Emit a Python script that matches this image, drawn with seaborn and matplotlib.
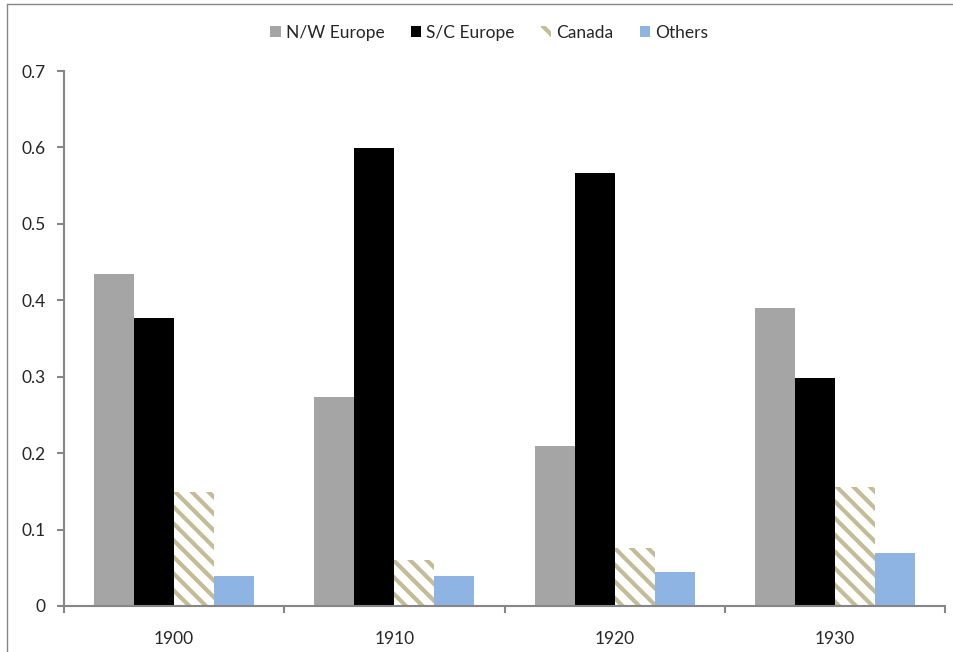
import numpy as np
import pandas as pd
import matplotlib
matplotlib.use("Agg")
import matplotlib.pyplot as plt
import seaborn as sns
from matplotlib.lines import Line2D
from matplotlib.patches import Patch

## data
years = ["1900", "1910", "1920", "1930"]
groups = ["N/W Europe", "S/C Europe", "Canada", "Others"]
nw_europe = [0.434, 0.273, 0.209, 0.390]
sc_europe = [0.377, 0.599, 0.567, 0.298]
canada = [0.149, 0.060, 0.076, 0.156]
others = [0.039, 0.039, 0.044, 0.069]

colors = ["#a5a5a5", "#000000", "#ffffff", "#8eb4e3"]
hatch_color = "#c4bc96"
axis_color = "#868686"
fsize = 12.5

df = pd.DataFrame({
    "year": years * 4,
    "group": [g for g in groups for _ in years],
    "share": nw_europe + sc_europe + canada + others,
})

sns.set_style("white")
plt.rcParams["font.family"] = ["Lato", "DejaVu Sans"]
plt.rcParams["hatch.color"] = hatch_color
plt.rcParams["hatch.linewidth"] = 3.0

fig = plt.figure(figsize=(9.54, 6.52), dpi=100)
ax = fig.add_axes([64 / 954, 1 - 606 / 652, (945 - 64) / 954, (606 - 71) / 652])

sns.barplot(data=df, x="year", y="share", hue="group", order=years,
            hue_order=groups, palette=colors, width=0.727, gap=0,
            saturation=1, linewidth=0, ax=ax, legend=False)

# Canada bars: white with tan diagonal stripes
for bar in ax.containers[2]:
    bar.set_hatch("\\\\")
    bar.set_edgecolor(hatch_color)
    bar.set_linewidth(0)

ax.set_xlim(-0.5, 3.5)
ax.set_ylim(0, 0.7)
ax.set_yticks(np.arange(0, 0.71, 0.1))
ax.set_yticklabels(["0"] + ["%.1f" % v for v in np.arange(0.1, 0.71, 0.1)])
ax.set_xticks(np.arange(-0.5, 3.6, 1))
ax.set_xticklabels([])
ax.set_xticks(range(len(years)), minor=True)
ax.set_xticklabels(years, minor=True)
ax.tick_params(axis="x", which="minor", bottom=True, length=0, pad=18, labelsize=fsize)
ax.tick_params(axis="x", which="major", bottom=True, length=5, width=1.5,
               color=axis_color, direction="out")
ax.tick_params(axis="y", left=True, length=5, width=1.5, color=axis_color,
               direction="out", labelsize=fsize, pad=8)
ax.set_xlabel("")
ax.set_ylabel("")
for s in ["top", "right"]:
    ax.spines[s].set_visible(False)
for s in ["left", "bottom"]:
    ax.spines[s].set_color(axis_color)
    ax.spines[s].set_linewidth(1.5)

handles = [
    Patch(facecolor=colors[0], edgecolor="none"),
    Patch(facecolor=colors[1], edgecolor="none"),
    Patch(facecolor="white", edgecolor=hatch_color, hatch="\\\\", linewidth=0),
    Patch(facecolor=colors[3], edgecolor="none"),
]
fig.legend(handles, groups, loc="center", bbox_to_anchor=(0.513, 1 - 33 / 652),
           ncol=4, frameon=False, fontsize=fsize, handlelength=0.6, handleheight=0.6,
           handletextpad=0.3, columnspacing=1.5)

# outer chart border (only left and top visible in the reference)
fig.add_artist(Line2D([7 / 954, 7 / 954], [0, 1 - 4 / 652], transform=fig.transFigure,
                      color=axis_color, linewidth=1))
fig.add_artist(Line2D([7 / 954, 1], [1 - 4 / 652, 1 - 4 / 652], transform=fig.transFigure,
                      color=axis_color, linewidth=1))

fig.savefig("out.png", dpi=100)
